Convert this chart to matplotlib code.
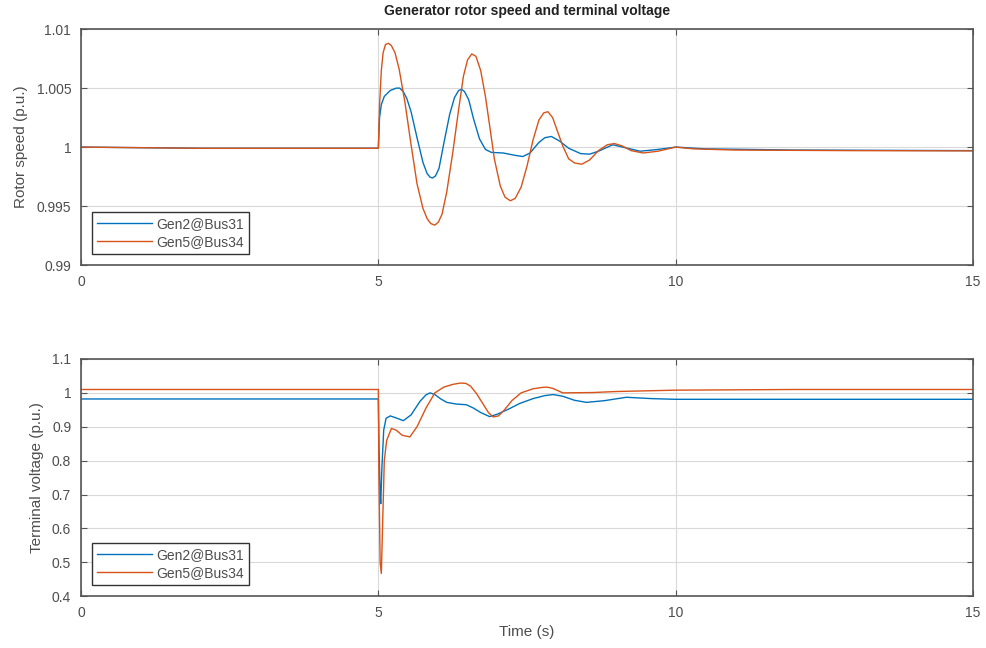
import numpy as np
import matplotlib.pyplot as plt

# rotor speed (p.u.)
t_w2 = [0, 2, 5.0, 5.02, 5.05, 5.1, 5.2, 5.3, 5.36, 5.42, 5.48, 5.55, 5.65, 5.75, 5.82,
        5.87, 5.91, 5.96, 6.02, 6.1, 6.2, 6.28, 6.35, 6.4, 6.45, 6.52, 6.6, 6.7, 6.8,
        6.9, 7.1, 7.3, 7.43, 7.55, 7.7, 7.8, 7.91, 8.05, 8.2, 8.4, 8.55, 8.7, 8.94,
        9.15, 9.4, 9.7, 10.0, 10.5, 12, 15]
w2 = [1.0, 0.9999, 0.9999, 1.0025, 1.0036, 1.0043, 1.0048, 1.005, 1.005, 1.0047,
      1.0041, 1.003, 1.0008, 0.9987, 0.99775, 0.99745, 0.99738, 0.99755, 0.9982,
      1.0003, 1.0028, 1.0042, 1.0048, 1.0049, 1.0047, 1.004, 1.0024, 1.0007, 0.9998,
      0.99955, 0.9995, 0.9993, 0.9992, 0.9995, 1.0004, 1.0008, 1.0009, 1.0005, 0.9999,
      0.99945, 0.9994, 0.99965, 1.0002, 0.99995, 0.99965, 0.9998, 1.0, 0.99985,
      0.99975, 0.9997]

t_w5 = [0, 1, 2, 5.0, 5.02, 5.05, 5.08, 5.12, 5.17, 5.22, 5.28, 5.35, 5.45, 5.55, 5.65,
        5.75, 5.82, 5.88, 5.95, 6.01, 6.07, 6.15, 6.25, 6.35, 6.43, 6.5, 6.57, 6.64,
        6.72, 6.8, 6.88, 6.95, 7.05, 7.13, 7.22, 7.3, 7.4, 7.5, 7.6, 7.7, 7.78, 7.85,
        7.93, 8.0, 8.1, 8.2, 8.3, 8.42, 8.55, 8.7, 8.85, 8.97, 9.1, 9.25, 9.45, 9.7,
        10.0, 10.3, 11, 13, 15]
w5 = [1.0, 0.99995, 0.9999, 0.9999, 1.0035, 1.0065, 1.008, 1.0087, 1.0088, 1.0086,
      1.008, 1.0066, 1.0037, 1.0002, 0.9969, 0.9948, 0.99393, 0.99352, 0.99338,
      0.99365, 0.9943, 0.9962, 0.9995, 1.0032, 1.006, 1.0074, 1.0079, 1.0077, 1.0065,
      1.0043, 1.0015, 0.999, 0.9967, 0.99575, 0.99545, 0.99565, 0.9966, 0.9984,
      1.0006, 1.0023, 1.0029, 1.003, 1.0025, 1.0015, 1.0001, 0.999, 0.99865, 0.99855,
      0.9989, 0.9997, 1.0002, 1.0003, 1.0001, 0.9997, 0.9995, 0.99965, 1.0, 0.99985,
      0.99975, 0.9997, 0.99968]

# terminal voltage (p.u.)
t_v2 = [0, 5.0, 5.01, 5.03, 5.04, 5.06, 5.09, 5.13, 5.2, 5.3, 5.42, 5.55, 5.7, 5.8,
        5.87, 5.95, 6.05, 6.15, 6.31, 6.48, 6.6, 6.72, 6.87, 7.0, 7.2, 7.38, 7.6, 7.8,
        7.94, 8.1, 8.3, 8.5, 8.8, 9.17, 9.6, 10, 15]
v2 = [0.982, 0.982, 0.85, 0.7, 0.673, 0.78, 0.89, 0.925, 0.932, 0.926, 0.918, 0.935,
      0.975, 0.994, 1.0, 0.995, 0.982, 0.972, 0.967, 0.965, 0.955, 0.942, 0.93, 0.937,
      0.953, 0.969, 0.983, 0.992, 0.995, 0.99, 0.978, 0.972, 0.977, 0.987, 0.983,
      0.981, 0.981]

t_v5 = [0, 5.0, 5.01, 5.03, 5.05, 5.07, 5.1, 5.14, 5.22, 5.3, 5.4, 5.53, 5.65, 5.8,
        5.95, 6.1, 6.25, 6.38, 6.47, 6.55, 6.65, 6.75, 6.85, 6.93, 7.02, 7.12, 7.25,
        7.4, 7.6, 7.75, 7.83, 7.92, 8.0, 8.1, 8.6, 9.0, 10, 12, 15]
v5 = [1.01, 1.01, 0.75, 0.5, 0.467, 0.6, 0.8, 0.86, 0.895, 0.89, 0.875, 0.87, 0.9,
      0.955, 1.0, 1.017, 1.025, 1.029, 1.028, 1.02, 0.998, 0.97, 0.942, 0.929,
      0.932, 0.95, 0.978, 1.0, 1.012, 1.016, 1.017, 1.014, 1.008, 1.0, 1.001, 1.004,
      1.008, 1.01, 1.01]

labels = ['Gen2@Bus31', 'Gen5@Bus34']
blue = '#0072BD'
orange = '#D95319'
txt = '#4d4d4d'

plt.rcParams['font.family'] = ['Liberation Sans', 'DejaVu Sans']

fig = plt.figure(figsize=(9.87, 6.48), dpi=100)
ax1 = fig.add_axes([0.082, 0.591, 0.904, 0.364])
ax2 = fig.add_axes([0.082, 0.080, 0.904, 0.366])


def style(ax):
    ax.set_xlim(0, 15)
    ax.set_xticks([0, 5, 10, 15])
    ax.set_xticklabels(['0', '5', '10', '15'])
    ax.grid(True, color='#d9d9d9', linewidth=0.8)
    ax.set_axisbelow(True)
    ax.tick_params(direction='in', top=True, right=True, length=4,
                   colors='#555555', labelcolor=txt, labelsize=10, pad=7)
    for s in ax.spines.values():
        s.set_color('#555555')
        s.set_linewidth(1.2)
    leg = ax.legend(labels, loc='lower left', fancybox=False, framealpha=1,
                    edgecolor='#333333', fontsize=10, borderaxespad=0.8,
                    handlelength=4.0, handletextpad=0.3, borderpad=0.35,
                    labelspacing=0.3)
    leg.get_frame().set_linewidth(1.0)
    for t in leg.get_texts():
        t.set_color(txt)


ax1.plot(t_w2, w2, color=blue, lw=1.0)
ax1.plot(t_w5, w5, color=orange, lw=1.0)
ax1.set_ylim(0.99, 1.01)
ax1.set_yticks([0.99, 0.995, 1.0, 1.005, 1.01])
ax1.set_yticklabels(['0.99', '0.995', '1', '1.005', '1.01'])
ax1.set_ylabel('Rotor speed (p.u.)', fontsize=11, color=txt, labelpad=6)
ax1.set_title('Generator rotor speed and terminal voltage', fontsize=10,
              fontweight='bold', color='#222222', pad=10)
style(ax1)

ax2.plot(t_v2, v2, color=blue, lw=1.0)
ax2.plot(t_v5, v5, color=orange, lw=1.0)
ax2.set_ylim(0.4, 1.1)
ax2.set_yticks(np.arange(0.4, 1.11, 0.1))
ax2.set_yticklabels(['0.4', '0.5', '0.6', '0.7', '0.8', '0.9', '1', '1.1'])
ax2.set_ylabel('Terminal voltage (p.u.)', fontsize=11, color=txt, labelpad=6)
ax2.set_xlabel('Time (s)', fontsize=11, color=txt, labelpad=4)
style(ax2)

fig.savefig('out.png', dpi=100)
